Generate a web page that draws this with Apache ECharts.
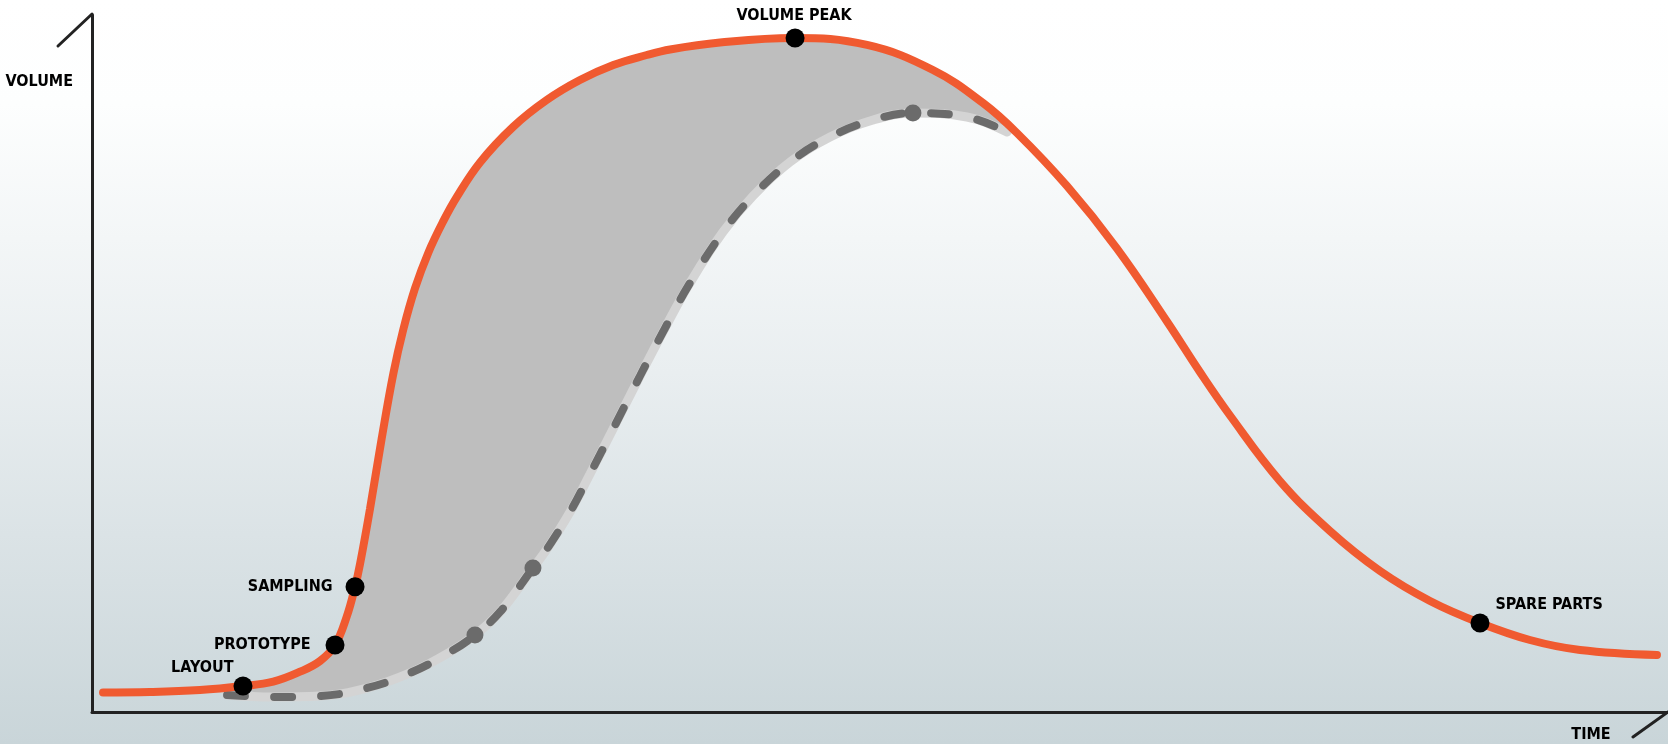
<!DOCTYPE html>
<html><head><meta charset="utf-8">
<script src="https://cdn.jsdelivr.net/npm/echarts@6/dist/echarts.min.js"></script>
<style>
html,body{margin:0;padding:0;}
#c{width:1668px;height:744px;background:linear-gradient(to bottom,#ffffff 0%,#fdfefe 14%,#e9eef0 50%,#c9d5d9 100%);}
</style></head><body><div id="c"></div>
<script>
// Product life-cycle curve (orange): time vs volume, in % of axis range
const lifecycleTime   = [0.70, 3.68, 6.85, 9.58, 11.50, 13.20, 14.47, 15.42, 16.16, 16.69, 17.01, 17.64, 18.38, 19.12, 19.75, 20.49, 21.34, 22.29, 23.14, 24.62, 26.73, 28.85, 30.96, 33.08, 35.20, 36.68, 39.85, 44.48, 49.18, 53.36, 56.54, 58.69, 61.86, 65.04, 68.21, 70.30, 72.21, 75.38, 78.55, 81.73, 84.90, 88.07, 91.24, 94.42, 99.30];
const lifecycleVolume = [2.80, 2.87, 3.16, 3.73, 4.35, 5.78, 7.32, 9.61, 13.67, 17.96, 21.26, 29.15, 39.22, 48.55, 54.86, 60.75, 65.90, 70.42, 73.87, 78.85, 83.97, 87.80, 90.67, 92.83, 94.26, 95.06, 96.05, 96.70, 95.70, 92.11, 87.37, 83.07, 75.47, 66.49, 56.03, 48.78, 42.54, 33.14, 25.97, 20.23, 15.93, 12.77, 10.33, 8.90, 8.18];

// Delayed ramp-up curve (grey dashed)
const rampTime   = [8.57, 11.48, 14.47, 17.45, 20.18, 22.72, 24.30, 25.89, 27.98, 28.87, 30.33, 31.60, 33.06, 34.77, 36.36, 37.94, 40.04, 41.94, 44.29, 46.83, 49.56, 52.09, 55.52, 58.06];
const rampVolume = [2.44, 2.15, 2.30, 3.44, 5.60, 8.61, 11.05, 14.35, 20.66, 23.39, 28.69, 34.15, 40.60, 48.21, 55.09, 61.55, 68.87, 74.03, 78.91, 82.50, 84.94, 85.94, 85.37, 83.21];
const rampDotTime   = [24.30, 27.98, 52.09];
const rampDotVolume = [11.05, 20.66, 85.94];

// Milestones on the life-cycle curve
const milestoneNames  = ['LAYOUT', 'PROTOTYPE', 'SAMPLING', 'VOLUME PEAK', 'SPARE PARTS'];
const milestoneTime   = [9.58, 15.42, 16.69, 44.61, 88.07];
const milestoneVolume = [3.73, 9.61, 17.96, 96.70, 12.77];

const xAxisName = 'TIME';
const yAxisName = 'VOLUME';
const fillStart = 9.5, fillEnd = 58.7;

const FONT = "'DejaVu Sans Condensed','Liberation Sans Narrow',sans-serif";
const FS = 16;
const labelPlacement = [
  {position: 'left', distance: 2, offset: [2, -18]},
  {position: 'left', distance: 15},
  {position: 'left', distance: 13},
  {position: 'top', distance: 5, offset: [-1, 0]},
  {position: 'right', distance: 6, offset: [0, -18]}
];

const chart = echarts.init(document.getElementById('c'), null, {renderer: 'canvas'});
const zip = (a, b) => a.map((v, i) => [v, b[i]]);
const SM = 0.4;

const option = {
  backgroundColor: 'transparent',
  animation: false,
  grid: {left: 92, right: 0, top: 15, bottom: 32, containLabel: false, outerBoundsMode: 'none'},
  xAxis: {
    type: 'value', min: 0, max: 100,
    axisLine: {show: true, lineStyle: {color: '#222', width: 3}},
    axisTick: {show: false}, axisLabel: {show: false}, splitLine: {show: false},
    name: xAxisName, nameLocation: 'end', nameGap: -77,
    nameTextStyle: {fontFamily: FONT, fontWeight: 'bold', fontSize: FS, color: '#000', align: 'center', verticalAlign: 'top', padding: [15, 0, 0, 0]}
  },
  yAxis: {
    type: 'value', min: 0, max: 100,
    axisLine: {show: true, lineStyle: {color: '#222', width: 3}},
    axisTick: {show: false}, axisLabel: {show: false}, splitLine: {show: false},
    name: yAxisName, nameLocation: 'end', nameGap: -67,
    nameTextStyle: {fontFamily: FONT, fontWeight: 'bold', fontSize: FS, color: '#000', align: 'right', verticalAlign: 'middle', padding: [0, 19, 0, 0]}
  },
  series: [
    {
      type: 'custom', silent: true, z: 1,
      data: [[fillStart, 0]],
      renderItem: function (params, api) {
        const pts = [];
        for (let i = 0; i < lifecycleTime.length; i++) {
          const t = lifecycleTime[i];
          if (t >= fillStart && t <= fillEnd) pts.push(api.coord([t, lifecycleVolume[i]]));
        }
        for (let i = rampTime.length - 1; i >= 0; i--) {
          if (rampTime[i] >= fillStart) pts.push(api.coord([rampTime[i], rampVolume[i]]));
        }
        return {type: 'polygon', shape: {points: pts, smooth: SM}, style: {fill: '#bebebe'}};
      }
    },
    {
      type: 'line', silent: true, z: 2, data: zip(rampTime, rampVolume),
      smooth: SM, showSymbol: false,
      lineStyle: {color: '#d4d4d4', width: 9, cap: 'round', opacity: 1}
    },
    {
      type: 'line', silent: true, z: 3, data: zip(rampTime, rampVolume),
      smooth: SM, showSymbol: false,
      lineStyle: {color: '#6b6b6b', width: 8, type: [18, 29], cap: 'round', opacity: 1}
    },
    {
      type: 'scatter', silent: true, z: 4, data: zip(rampDotTime, rampDotVolume),
      symbolSize: 17, itemStyle: {color: '#6b6b6b', opacity: 1}
    },
    {
      type: 'line', silent: true, z: 5, data: zip(lifecycleTime, lifecycleVolume),
      smooth: SM, showSymbol: false,
      lineStyle: {color: '#f05a30', width: 8, cap: 'round', opacity: 1}
    },
    {
      type: 'scatter', silent: true, z: 6,
      data: milestoneNames.map((n, i) => ({
        name: n, value: [milestoneTime[i], milestoneVolume[i]],
        label: Object.assign({show: true}, labelPlacement[i])
      })),
      symbolSize: 19, itemStyle: {color: '#000', opacity: 1},
      label: {show: true, formatter: '{b}', fontFamily: FONT, fontWeight: 'bold', fontSize: FS, color: '#000', opacity: 1}
    }
  ]
};
chart.setOption(option);

const yTop = chart.convertToPixel({gridIndex: 0}, [0, 100]);
const xEnd = chart.convertToPixel({gridIndex: 0}, [100, 0]);
chart.setOption({
  graphic: [
    {type: 'line', silent: true, shape: {x1: yTop[0], y1: yTop[1] - 1, x2: yTop[0] - 34, y2: yTop[1] + 31}, style: {stroke: '#222', lineWidth: 3, lineCap: 'round'}},
    {type: 'line', silent: true, shape: {x1: xEnd[0], y1: xEnd[1], x2: xEnd[0] - 35, y2: xEnd[1] + 25}, style: {stroke: '#222', lineWidth: 3, lineCap: 'round'}}
  ]
});
</script></body></html>
